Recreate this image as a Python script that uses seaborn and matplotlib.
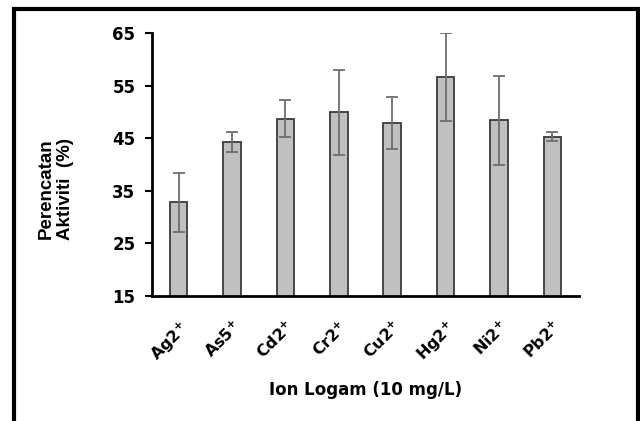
import matplotlib
matplotlib.use("Agg")
import matplotlib.pyplot as plt
import seaborn as sns
import pandas as pd
from matplotlib.patches import Rectangle

ions = ["Ag2$^{+}$", "As5$^{+}$", "Cd2$^{+}$", "Cr2$^{+}$", "Cu2$^{+}$", "Hg2$^{+}$", "Ni2$^{+}$", "Pb2$^{+}$"]
inhibition = [32.8, 44.2, 48.7, 49.9, 47.9, 56.6, 48.4, 45.3]
errors = [5.6, 1.9, 3.5, 8.0, 4.9, 8.4, 8.4, 0.9]
yticks = [15, 25, 35, 45, 55, 65]

sns.set_style("white")
plt.rcParams['font.family'] = ['DejaVu Sans']
plt.rcParams['text.color'] = 'black'
plt.rcParams['xtick.color'] = 'black'
plt.rcParams['ytick.color'] = 'black'
plt.rcParams['axes.labelcolor'] = 'black'
plt.rcParams['mathtext.fontset'] = 'custom'
plt.rcParams['mathtext.rm'] = 'DejaVu Sans:bold'
plt.rcParams['mathtext.it'] = 'DejaVu Sans:bold'

df = pd.DataFrame({"ion": ions, "val": inhibition})

fig = plt.figure(figsize=(6.4, 4.21), dpi=100)
ax = fig.add_axes([152/640, 1-296/421, (579-152)/640, (296-33)/421])

sns.barplot(data=df, x="ion", y="val", ax=ax, color="#C0C0C0", saturation=1,
            width=0.33, edgecolor="#3a3a3a", linewidth=1.3, errorbar=None)
ax.errorbar(range(len(ions)), inhibition, yerr=errors, fmt="none",
            ecolor="#6e6e6e", elinewidth=1.3, capsize=4, capthick=1.3)

ax.set_ylim(15, 65)
ax.set_xlim(-0.5, 7.5)
ax.set_yticks(yticks)
ax.set_yticklabels([str(t) for t in yticks], fontsize=12, fontweight="bold")
ax.set_xticks(range(len(ions)))
ax.set_xticklabels(ions, rotation=45, ha="right", rotation_mode="anchor",
                   fontsize=11.5, fontweight="bold")
ax.tick_params(axis="y", direction="out", length=5, width=1.5, pad=7, left=True)
ax.tick_params(axis="x", length=0, pad=16)

for s in ["top", "right"]:
    ax.spines[s].set_visible(False)
for s in ["left", "bottom"]:
    ax.spines[s].set_linewidth(2)
    ax.spines[s].set_color("black")

ax.set_xlabel("Ion Logam (10 mg/L)", fontsize=12, fontweight="bold", labelpad=11)
ax.set_ylabel("")
fig.text(56/640, 1-189/421, "Perencatan\nAktiviti  (%)", fontsize=13.5,
         fontweight="bold", family=["Liberation Sans"], rotation=90,
         ha="center", va="center", multialignment="center", linespacing=1.15)

fig.patches.append(Rectangle((14/640, -0.05), (638-14)/640, 1-9/421+0.05,
                             transform=fig.transFigure, fill=False,
                             edgecolor="black", linewidth=3))

fig.savefig("out.png", dpi=100)
